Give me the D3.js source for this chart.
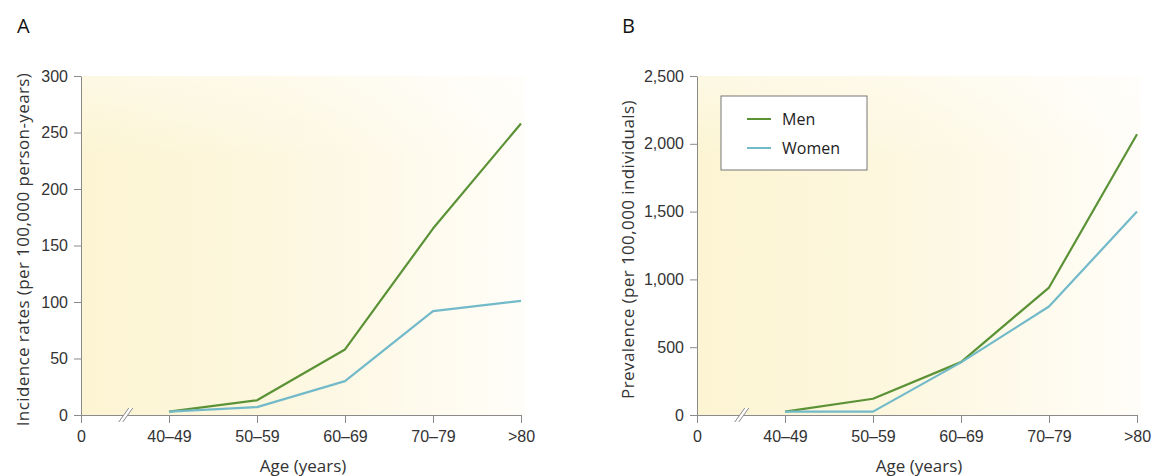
<!DOCTYPE html>
<html>
<head>
<meta charset="utf-8">
<script src="https://cdn.jsdelivr.net/npm/d3@7"></script>
<style>
  body { margin: 0; background: #fff; }
  svg { display: block; font-family: "Open Sans", sans-serif; }
  .tick text { fill: #333; font-size: 16px; }
  .axis path, .axis line { stroke: #8a8a8a; }
</style>
</head>
<body>
<div id="chart"></div>
<script>
// data
const ageGroups = ["40–49", "50–59", "60–69", "70–79", ">80"]
const incidenceMen = [3, 13, 58, 165, 258]
const incidenceWomen = [3, 7, 30, 92, 101]
const prevalenceMen = [25, 120, 390, 940, 2070]
const prevalenceWomen = [25, 25, 388, 800, 1500]
const incidenceTicks = [0, 50, 100, 150, 200, 250, 300]
const prevalenceTicks = [0, 500, 1000, 1500, 2000, 2500]
const seriesNames = ["Men", "Women"]
const seriesColors = ["#5b9236", "#72bac9"]

const width = 1157, height = 476

const svg = d3.select("#chart").append("svg")
  .attr("width", width)
  .attr("height", height)

const defs = svg.append("defs")
const grad = defs.append("linearGradient")
  .attr("id", "bgGrad")
  .attr("x1", "0%").attr("x2", "100%").attr("y1", "0%").attr("y2", "0%")
grad.append("stop").attr("offset", "0%").attr("stop-color", "#fcf4d2")
grad.append("stop").attr("offset", "45%").attr("stop-color", "#fdf7df")
grad.append("stop").attr("offset", "100%").attr("stop-color", "#fffdf8")

const topFade = defs.append("linearGradient")
  .attr("id", "topFade")
  .attr("x1", "0%").attr("x2", "0%").attr("y1", "0%").attr("y2", "100%")
topFade.append("stop").attr("offset", "0%").attr("stop-color", "#fff").attr("stop-opacity", 0.4)
topFade.append("stop").attr("offset", "25%").attr("stop-color", "#fff").attr("stop-opacity", 0)

function drawPanel(p) {
  const g = svg.append("g")

  const x = d3.scaleLinear().domain([0, ageGroups.length]).range([p.left, p.right])
  const y = d3.scaleLinear().domain([0, p.ticks[p.ticks.length - 1]]).range([p.bottom, p.top])

  // background
  g.selectAll("rect.bg").data(["url(#bgGrad)", "url(#topFade)"]).join("rect")
    .attr("class", "bg")
    .attr("x", p.left).attr("y", p.top)
    .attr("width", p.right - p.left + 4)
    .attr("height", p.bottom - p.top)
    .attr("fill", d => d)

  // panel letter
  g.append("text")
    .attr("x", p.letterX).attr("y", 33)
    .attr("font-size", 20).attr("fill", "#111")
    .text(p.letter)

  // axes
  g.append("g")
    .attr("class", "axis")
    .attr("transform", `translate(${p.left},0)`)
    .call(d3.axisLeft(y).tickValues(p.ticks).tickFormat(d3.format(",")).tickSize(7).tickSizeOuter(0).tickPadding(6))

  g.append("g")
    .attr("class", "axis")
    .attr("transform", `translate(0,${p.bottom})`)
    .call(d3.axisBottom(x)
      .tickValues(d3.range(0, ageGroups.length + 1))
      .tickFormat(i => i === 0 ? "0" : ageGroups[i - 1])
      .tickSize(8).tickSizeOuter(0).tickPadding(8))

  // axis break
  const bx = x(0.52), by = p.bottom
  const brk = g.append("g").attr("transform", `translate(${bx},${by})`)
  brk.append("path")
    .attr("d", "M-8,7 L2,-7 L6,-7 L-4,7 Z")
    .attr("fill", "#fff")
  brk.selectAll("line").data([-2, 2]).join("line")
    .attr("x1", d => d - 6).attr("y1", 7)
    .attr("x2", d => d + 4).attr("y2", -7)
    .attr("stroke", "#8a8a8a").attr("stroke-width", 1)

  // axis titles
  g.append("text")
    .attr("transform", `translate(${p.left - p.titleOffset},${(p.top + p.bottom) / 2 + 4}) rotate(-90)`)
    .attr("text-anchor", "middle")
    .attr("font-size", 17).attr("letter-spacing", 0.4).attr("fill", "#333")
    .text(p.yTitle)

  g.append("text")
    .attr("x", (x(0) + x(ageGroups.length)) / 2 + 2)
    .attr("y", 472)
    .attr("text-anchor", "middle")
    .attr("font-size", 17).attr("fill", "#333")
    .text("Age (years)")

  // lines
  const line = d3.line()
    .x((d, i) => x(i + 1))
    .y(d => y(d))

  p.series.forEach((s, k) => {
    g.append("path")
      .datum(s)
      .attr("d", line)
      .attr("fill", "none")
      .attr("stroke", seriesColors[k])
      .attr("stroke-width", 2.2)
      .attr("stroke-linejoin", "round")
  })

  return { g, x, y }
}

drawPanel({
  letter: "A", letterX: 17, left: 81, right: 521, top: 76, bottom: 415,
  ticks: incidenceTicks, titleOffset: 52,
  yTitle: "Incidence rates (per 100,000 person-years)",
  series: [incidenceMen, incidenceWomen]
})

const b = drawPanel({
  letter: "B", letterX: 622, left: 697, right: 1137, top: 76, bottom: 415,
  ticks: prevalenceTicks, titleOffset: 63,
  yTitle: "Prevalence (per 100,000 individuals)",
  series: [prevalenceMen, prevalenceWomen]
})

// legend
const legend = b.g.append("g").attr("transform", "translate(721,96)")
legend.append("rect")
  .attr("width", 146).attr("height", 74)
  .attr("fill", "#fff").attr("stroke", "#777").attr("stroke-width", 1)
seriesNames.forEach((name, k) => {
  const row = legend.append("g").attr("transform", `translate(0,${23 + k * 29})`)
  row.append("line")
    .attr("x1", 26).attr("x2", 50)
    .attr("stroke", seriesColors[k]).attr("stroke-width", 2)
  row.append("text")
    .attr("x", 61).attr("y", 6)
    .attr("font-size", 16).attr("fill", "#222")
    .text(name)
})
</script>
</body>
</html>
